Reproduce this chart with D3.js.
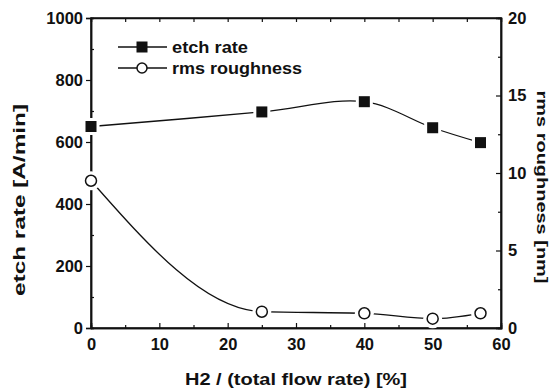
<!DOCTYPE html>
<html>
<head>
<meta charset="utf-8">
<script src="https://cdn.jsdelivr.net/npm/d3@7"></script>
<style>
  body { margin: 0; background: #fff; }
  text { font-family: "Liberation Sans", Arial, sans-serif; font-weight: bold; fill: #111; }
</style>
</head>
<body>
<div id="chart"></div>
<script>
// data
var h2Flow = [0, 25, 40, 50, 57];
var etchRate = [650, 697, 730, 646, 598];
var roughness = [9.5, 1.05, 0.95, 0.6, 0.95];
var xTicks = [0, 10, 20, 30, 40, 50, 60];
var yLeftTicks = [0, 200, 400, 600, 800, 1000];
var yRightTicks = [0, 5, 10, 15, 20];

var svgWidth = 552;
var svgHeight = 392;
var margin = { top: 18, right: 51, bottom: 64, left: 91 };
var width = svgWidth - margin.left - margin.right;
var height = svgHeight - margin.top - margin.bottom;

var svg = d3.select("#chart")
  .append("svg")
  .attr("width", svgWidth)
  .attr("height", svgHeight);

var chartGroup = svg.append("g")
  .attr("transform", `translate(${margin.left}, ${margin.top})`);

var xScale = d3.scaleLinear().domain([0, 60]).range([0, width]);
var yLeft = d3.scaleLinear().domain([0, 1000]).range([height, 0]);
var yRight = d3.scaleLinear().domain([0, 20]).range([height, 0]);

// frame
chartGroup.append("rect")
  .attr("width", width)
  .attr("height", height)
  .attr("fill", "none")
  .attr("stroke", "#111")
  .attr("stroke-width", 1.5);

// axes
chartGroup.append("g")
  .attr("transform", `translate(0, ${height})`)
  .call(d3.axisBottom(xScale).tickValues(xTicks).tickSize(-5).tickPadding(10));

chartGroup.append("g")
  .attr("transform", `translate(0, ${height})`)
  .call(d3.axisBottom(xScale).tickValues(d3.range(5, 60, 10)).tickSize(-3).tickFormat(""));

chartGroup.append("g")
  .call(d3.axisTop(xScale).tickValues(d3.range(5, 60, 5)).tickSize(-4).tickFormat(""));

chartGroup.append("g")
  .call(d3.axisLeft(yLeft).tickValues(yLeftTicks).tickSize(5).tickPadding(3).tickFormat(d3.format("d")));

chartGroup.append("g")
  .call(d3.axisLeft(yLeft).tickValues(d3.range(100, 1000, 200)).tickSize(-3).tickFormat(""));

chartGroup.append("g")
  .attr("transform", `translate(${width}, 0)`)
  .call(d3.axisRight(yRight).tickValues(yRightTicks).tickSize(-5).tickPadding(7));

chartGroup.append("g")
  .attr("transform", `translate(${width}, 0)`)
  .call(d3.axisRight(yRight).tickValues(d3.range(2.5, 20, 5)).tickSize(-3).tickFormat(""));

chartGroup.selectAll(".domain").attr("stroke", "#111").attr("stroke-width", 1.5);
chartGroup.selectAll(".tick line").attr("stroke", "#111").attr("stroke-width", 1.2);
chartGroup.selectAll(".tick text").attr("font-size", "16.5px").attr("fill", "#111");

// lines
var etchLine = d3.line()
  .x((d, i) => xScale(h2Flow[i]))
  .y(d => yLeft(d))
  .curve(d3.curveCatmullRom.alpha(0.5));

var roughLine = d3.line()
  .x((d, i) => xScale(h2Flow[i]))
  .y(d => yRight(d))
  .curve(d3.curveMonotoneX);

chartGroup.append("path")
  .datum(etchRate)
  .attr("d", etchLine)
  .attr("fill", "none")
  .attr("stroke", "#111")
  .attr("stroke-width", 1.3);

chartGroup.append("path")
  .datum(roughness)
  .attr("d", roughLine)
  .attr("fill", "none")
  .attr("stroke", "#111")
  .attr("stroke-width", 1.3);

// white halos leave a gap between line and marker
chartGroup.selectAll(".halo-sq")
  .data(etchRate)
  .enter()
  .append("rect")
  .attr("x", (d, i) => xScale(h2Flow[i]) - 8.5)
  .attr("y", d => yLeft(d) - 8.5)
  .attr("width", 17)
  .attr("height", 17)
  .attr("fill", "#fff");

chartGroup.selectAll(".halo-c")
  .data(roughness)
  .enter()
  .append("circle")
  .attr("cx", (d, i) => xScale(h2Flow[i]))
  .attr("cy", d => yRight(d))
  .attr("r", 9.5)
  .attr("fill", "#fff");

chartGroup.selectAll(".sq")
  .data(etchRate)
  .enter()
  .append("rect")
  .attr("x", (d, i) => xScale(h2Flow[i]) - 5.5)
  .attr("y", d => yLeft(d) - 5.5)
  .attr("width", 11)
  .attr("height", 11)
  .attr("fill", "#111");

chartGroup.selectAll(".circ")
  .data(roughness)
  .enter()
  .append("circle")
  .attr("cx", (d, i) => xScale(h2Flow[i]))
  .attr("cy", d => yRight(d))
  .attr("r", 5.5)
  .attr("fill", "#fff")
  .attr("stroke", "#111")
  .attr("stroke-width", 1.5);

// legend
var legend = chartGroup.append("g").attr("transform", "translate(27, 29)");
legend.append("line").attr("x1", 0).attr("x2", 49).attr("y1", 0).attr("y2", 0)
  .attr("stroke", "#111").attr("stroke-width", 1.3);
legend.append("rect").attr("x", 18.5).attr("y", -5.5).attr("width", 11).attr("height", 11).attr("fill", "#111");
legend.append("text").attr("x", 54).attr("y", 0).attr("dy", "0.35em")
  .attr("font-size", "16px").attr("textLength", 76).attr("lengthAdjust", "spacingAndGlyphs")
  .text("etch rate");

legend.append("line").attr("x1", 0).attr("x2", 49).attr("y1", 21).attr("y2", 21)
  .attr("stroke", "#111").attr("stroke-width", 1.3);
legend.append("circle").attr("cx", 24).attr("cy", 21).attr("r", 5).attr("fill", "#fff")
  .attr("stroke", "#111").attr("stroke-width", 1.5);
legend.append("text").attr("x", 54).attr("y", 21).attr("dy", "0.35em")
  .attr("font-size", "16px").attr("textLength", 130).attr("lengthAdjust", "spacingAndGlyphs")
  .text("rms roughness");

// axis titles
chartGroup.append("text")
  .attr("text-anchor", "middle")
  .attr("font-size", "16px")
  .attr("textLength", 222)
  .attr("lengthAdjust", "spacingAndGlyphs")
  .attr("x", width / 2)
  .attr("y", height + 57)
  .text("H2 / (total flow rate) [%]");

chartGroup.append("text")
  .attr("text-anchor", "middle")
  .attr("font-size", "17px")
  .attr("textLength", 192)
  .attr("lengthAdjust", "spacingAndGlyphs")
  .attr("transform", `translate(-66, ${200 - margin.top}) rotate(-90)`)
  .text("etch rate [A/min]");

chartGroup.append("text")
  .attr("text-anchor", "middle")
  .attr("font-size", "15px")
  .attr("textLength", 193)
  .attr("lengthAdjust", "spacingAndGlyphs")
  .attr("transform", `translate(${width + 36}, ${187 - margin.top}) rotate(90)`)
  .text("rms roughness [nm]");
</script>
</body>
</html>
